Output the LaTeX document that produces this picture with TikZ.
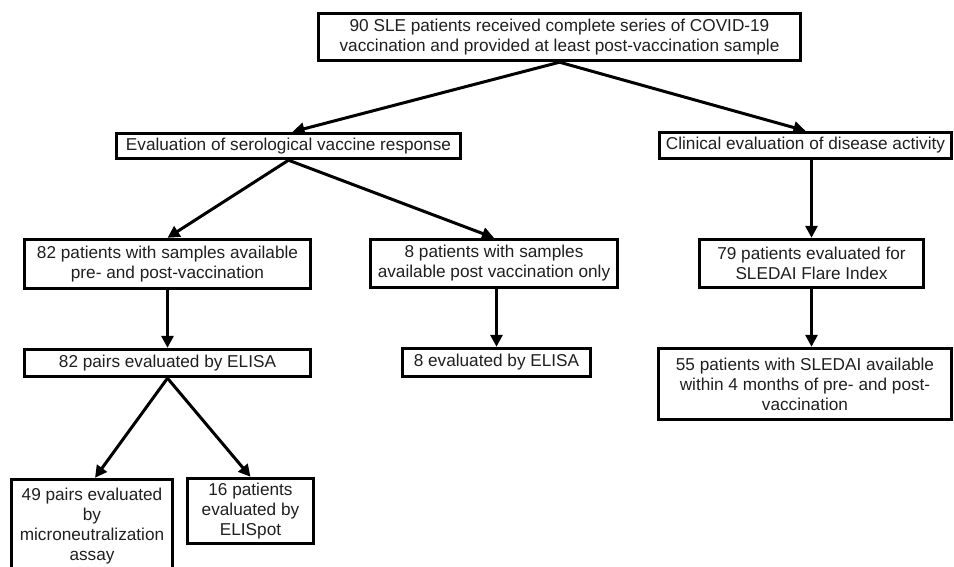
\documentclass[tikz,border=0pt]{standalone}
\usepackage{fontspec}
\setmainfont{Liberation Sans}
\usetikzlibrary{arrows.meta}
\tikzset{
  box/.style={draw=black, line width=3.4pt, align=center, inner sep=0pt,
    font=\fontsize{17.2}{20}\selectfont, text=black!88},
  conn/.style={line width=3pt, -{Triangle[length=12pt,width=12pt]}}
}
\begin{document}
\begin{tikzpicture}[x=1pt,y=-1pt]
\useasboundingbox (0,0) rectangle (954,566);
\clip (0,0) rectangle (954,566);
\node[box, minimum width=482pt, minimum height=47pt] (top) at (559.5,37)
  {90 SLE patients received complete series of COVID-19\\vaccination and provided at least post-vaccination sample};
\node[box, minimum width=344pt, minimum height=25pt] (sero) at (288.5,146)
  {Evaluation of serological vaccine response};
\node[box, minimum width=292pt, minimum height=26pt] (clin) at (805.5,145.5)
  {Clinical evaluation of disease activity};
\node[box, minimum width=286pt, minimum height=49pt] (p82) at (167.5,264)
  {82 patients with samples available\\pre- and post-vaccination};
\node[box, minimum width=247pt, minimum height=48pt] (p8) at (494,263.5)
  {8 patients with samples\\available post vaccination only};
\node[box, minimum width=224pt, minimum height=48pt] (p79) at (811.5,263.5)
  {79 patients evaluated for\\SLEDAI Flare Index};
\node[box, minimum width=286pt, minimum height=27pt] (e82) at (167.5,363)
  {82 pairs evaluated by ELISA};
\node[box, minimum width=188pt, minimum height=28pt] (e8) at (496.5,362.5)
  {8 evaluated by ELISA};
\node[box, minimum width=293pt, minimum height=71pt] (s55) at (805,384)
  {55 patients with SLEDAI available\\within 4 months of pre- and post-\\vaccination};
\node[box, minimum width=161pt, minimum height=93pt] (m49) at (92,526)
  {49 pairs evaluated\\by\\microneutralization\\assay};
\node[box, minimum width=126pt, minimum height=65pt] (e16) at (250.5,511)
  {16 patients\\evaluated by\\ELISpot};
\draw[conn] (top.south) -- ([xshift=4pt]sero.north);
\draw[conn] (top.south) -- (clin.north);
\draw[conn] (sero.south) -- (p82.north);
\draw[conn] (sero.south) -- (p8.north);
\draw[conn] (p79.north |- clin.south) -- (p79.north);
\draw[conn] (p79.south) -- (p79.south |- s55.north);
\draw[conn] (p82.south) -- (e82.north);
\draw[conn] (e8.north |- p8.south) -- (e8.north);
\draw[conn] (e82.south) -- ([xshift=3pt]m49.north);
\draw[conn] (e82.south) -- (e16.north);
\end{tikzpicture}
\end{document}
